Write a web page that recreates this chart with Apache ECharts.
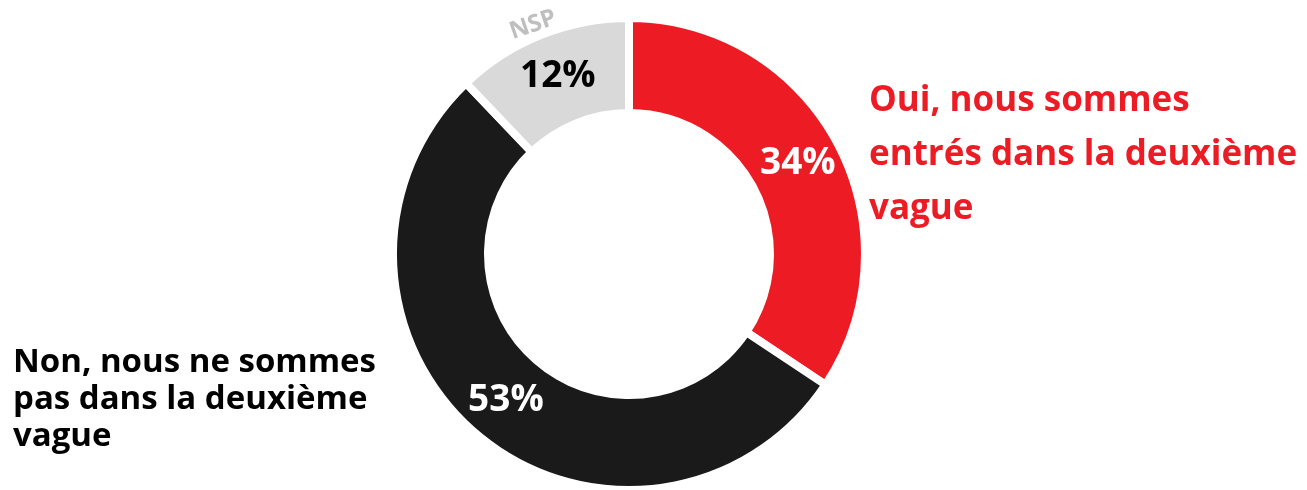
<!DOCTYPE html>
<html>
<head>
<meta charset="utf-8">
<script src="https://cdn.jsdelivr.net/npm/echarts@6/dist/echarts.min.js"></script>
<style>
html,body{margin:0;padding:0;background:#fff;}
#chart{width:1307px;height:490px;}
</style>
</head>
<body>
<div id="chart"></div>
<script>
// Data
var categories = ['Oui, nous sommes entrés dans la deuxième vague', 'Non, nous ne sommes pas dans la deuxième vague', 'NSP'];
var values = [34, 53, 12];
var colors = ['#ED1C24', '#1A1A1A', '#D9D9D9'];
var labelColors = ['#ffffff', '#ffffff', '#000000'];
var legendLines = [
  ['Oui, nous sommes', 'entrés dans la deuxième', 'vague'],
  ['Non, nous ne sommes', 'pas dans la deuxième', 'vague'],
  ['NSP']
];

var chart = echarts.init(document.getElementById('chart'), null, {renderer: 'canvas'});
var FONT = '"Open Sans", "DejaVu Sans", sans-serif';

var option = {
  animation: false,
  backgroundColor: '#ffffff',
  series: [{
    type: 'pie',
    center: [629, 254],
    radius: [141, 236],
    startAngle: 90,
    clockwise: true,
    avoidLabelOverlap: false,
    itemStyle: {borderColor: '#ffffff', borderWidth: 8},
    label: {
      show: true,
      position: 'inside',
      fontFamily: FONT,
      fontWeight: 'bold',
      fontSize: 37,
      formatter: function (p) { return p.value + '%'; }
    },
    labelLine: {show: false},
    emphasis: {disabled: true},
    data: categories.map(function (c, i) {
      return {
        name: c,
        value: values[i],
        itemStyle: {color: colors[i]},
        label: {color: labelColors[i]}
      };
    })
  }],
  graphic: [
    {
      type: 'text',
      left: 869,
      top: 74,
      style: {
        text: legendLines[0].join('\n'),
        fill: '#ED1C24',
        font: 'bold 35px ' + FONT,
        lineHeight: 54
      }
    },
    {
      type: 'text',
      left: 13,
      top: 344,
      style: {
        text: legendLines[1].join('\n'),
        fill: '#000000',
        font: 'bold 33px ' + FONT,
        lineHeight: 37
      }
    },
    {
      type: 'text',
      x: 533,
      y: 25,
      rotation: 19 * Math.PI / 180,
      style: {
        text: legendLines[2][0],
        fill: '#BFBFBF',
        font: 'bold 24px ' + FONT,
        align: 'center',
        verticalAlign: 'middle'
      }
    }
  ]
};
chart.setOption(option);
</script>
</body>
</html>
